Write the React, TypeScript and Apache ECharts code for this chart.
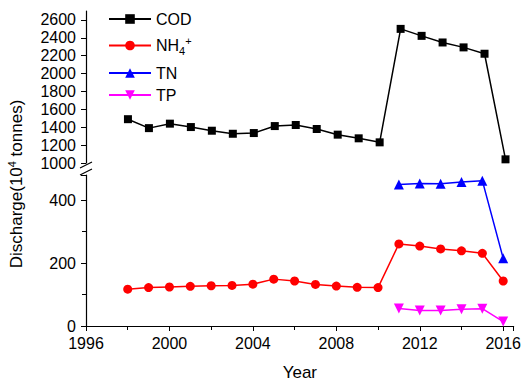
import React, { useEffect, useRef } from "react";
import * as echarts from "echarts";

const years = [1998, 1999, 2000, 2001, 2002, 2003, 2004, 2005, 2006, 2007, 2008, 2009, 2010, 2011, 2012, 2013, 2014, 2015, 2016];
const codValues = [1490, 1390, 1440, 1402, 1361, 1327, 1335, 1413, 1425, 1380, 1317, 1276, 1231, 2500, 2422, 2348, 2293, 2222, 1041];
const nh4Values = [117, 122, 124, 126, 128, 129, 133, 149, 143, 132, 127, 123, 122, 261, 254, 245, 239, 231, 143];
const tnYears = [2011, 2012, 2013, 2014, 2015, 2016];
const tnValues = [450, 453, 452, 458, 462, 215];
const tpValues = [56, 49, 49, 53, 55, 14];

const FONT = "Liberation Sans, Arial, sans-serif";

export default function App() {
  const ref = useRef<HTMLDivElement>(null);
  useEffect(() => {
    if (!ref.current) return;
    const chart = echarts.init(ref.current, null, { renderer: "svg" });
    const pair = (xs: number[], ys: number[]) => xs.map((x, i) => [x, ys[i]]);
    const plain = (v: number) => String(v);
    const xAxisBase = {
      type: "value",
      min: 1996,
      max: 2016.5,
      interval: 4,
      splitLine: { show: false },
    };
    const legendText = {
      fontFamily: FONT,
      fontSize: 16,
      color: "#000",
      rich: {
        n: { fontFamily: FONT, fontSize: 16, color: "#000" },
        sub: { fontFamily: FONT, fontSize: 11, color: "#000", padding: [10, 0, 0, 0] },
        sup: { fontFamily: FONT, fontSize: 11, color: "#000", padding: [0, 0, 10, 0] },
      },
    };
    const mkLegend = (name: string, top: number) => ({
      data: [name],
      left: 103,
      top,
      itemWidth: 42,
      itemHeight: 12,
      itemGap: 0,
      textStyle: legendText,
      formatter: (n: string) => (n === "NH4+" ? "{n|NH}{sub|4}{sup|+}" : n),
    });
    chart.setOption({
      animation: false,
      backgroundColor: "#fff",
      legend: [mkLegend("COD", 6), mkLegend("NH4+", 30), mkLegend("TN", 60), mkLegend("TP", 82)],
      grid: [
        { left: 86, right: 8, top: 11, height: 152 },
        { left: 86, right: 8, top: 175, bottom: 60 },
      ],
      xAxis: [
        {
          ...xAxisBase,
          gridIndex: 0,
          show: false,
        },
        {
          ...xAxisBase,
          gridIndex: 1,
          axisLine: { lineStyle: { color: "#000", width: 1.2 } },
          axisTick: { inside: false, length: 5, lineStyle: { color: "#000" } },
          minorTick: { show: true, splitNumber: 2, length: 4, lineStyle: { color: "#000" } },
          axisLabel: { showMaxLabel: false, formatter: plain, color: "#000", fontFamily: FONT, fontSize: 16, margin: 9 },
          name: "Year",
          nameLocation: "middle",
          nameGap: 38,
          nameTextStyle: { color: "#000", fontFamily: FONT, fontSize: 17 },
        },
      ],
      yAxis: [
        {
          type: "value",
          gridIndex: 0,
          min: 1000,
          max: 2700,
          interval: 200,
          splitLine: { show: false },
          axisLine: { show: true, lineStyle: { color: "#000", width: 1.2 } },
          axisTick: { show: true, length: 5, lineStyle: { color: "#000" } },
          axisLabel: { showMaxLabel: false, formatter: plain, color: "#000", fontFamily: FONT, fontSize: 16, margin: 10 },
        },
        {
          type: "value",
          gridIndex: 1,
          min: 0,
          max: 480,
          interval: 200,
          splitLine: { show: false },
          axisLine: { show: true, lineStyle: { color: "#000", width: 1.2 } },
          axisTick: { show: true, length: 5, lineStyle: { color: "#000" } },
          minorTick: { show: true, splitNumber: 2, length: 4, lineStyle: { color: "#000" } },
          axisLabel: { showMaxLabel: false, formatter: plain, color: "#000", fontFamily: FONT, fontSize: 16, margin: 10 },
        },
      ],
      series: [
        {
          name: "COD",
          type: "line",
          xAxisIndex: 0,
          yAxisIndex: 0,
          data: pair(years, codValues),
          symbol: "rect",
          symbolSize: 8,
          color: "#000",
          lineStyle: { color: "#000", width: 1.5 },
          itemStyle: { color: "#000" },
        },
        {
          name: "NH4+",
          type: "line",
          xAxisIndex: 1,
          yAxisIndex: 1,
          data: pair(years, nh4Values),
          symbol: "circle",
          symbolSize: 9,
          color: "#ff0000",
          lineStyle: { color: "#ff0000", width: 1.5 },
          itemStyle: { color: "#ff0000" },
        },
        {
          name: "TN",
          type: "line",
          xAxisIndex: 1,
          yAxisIndex: 1,
          data: pair(tnYears, tnValues),
          symbol: "triangle",
          symbolSize: 10,
          color: "#0000ff",
          lineStyle: { color: "#0000ff", width: 1.5 },
          itemStyle: { color: "#0000ff" },
        },
        {
          name: "TP",
          type: "line",
          xAxisIndex: 1,
          yAxisIndex: 1,
          data: pair(tnYears, tpValues),
          symbol: "triangle",
          symbolRotate: 180,
          symbolSize: 10,
          color: "#ff00ff",
          lineStyle: { color: "#ff00ff", width: 1.5 },
          itemStyle: { color: "#ff00ff" },
        },
      ],
      graphic: [
        {
          type: "rect",
          shape: { x: 84, y: 164, width: 5, height: 10 },
          style: { fill: "#fff" },
          z: 100,
        },
        {
          type: "line",
          shape: { x1: 80, y1: 168, x2: 92, y2: 162 },
          style: { stroke: "#000", lineWidth: 1.2 },
          z: 101,
        },
        {
          type: "line",
          shape: { x1: 80, y1: 175, x2: 92, y2: 169 },
          style: { stroke: "#000", lineWidth: 1.2 },
          z: 101,
        },
        {
          type: "text",
          x: 16,
          y: 184,
          rotation: Math.PI / 2,
          style: {
            text: "{a|Discharge(10}{s|4}{a| tonnes)}",
            align: "center",
            verticalAlign: "middle",
            rich: {
              a: { fontFamily: FONT, fontSize: 17, fill: "#000" },
              s: { fontFamily: FONT, fontSize: 11, fill: "#000", padding: [0, 0, 8, 0] },
            },
          },
        },
      ],
    });
    return () => chart.dispose();
  }, []);
  return <div ref={ref} style={{ width: 524, height: 386, position: "absolute", left: 0, top: 0 }} />;
}
